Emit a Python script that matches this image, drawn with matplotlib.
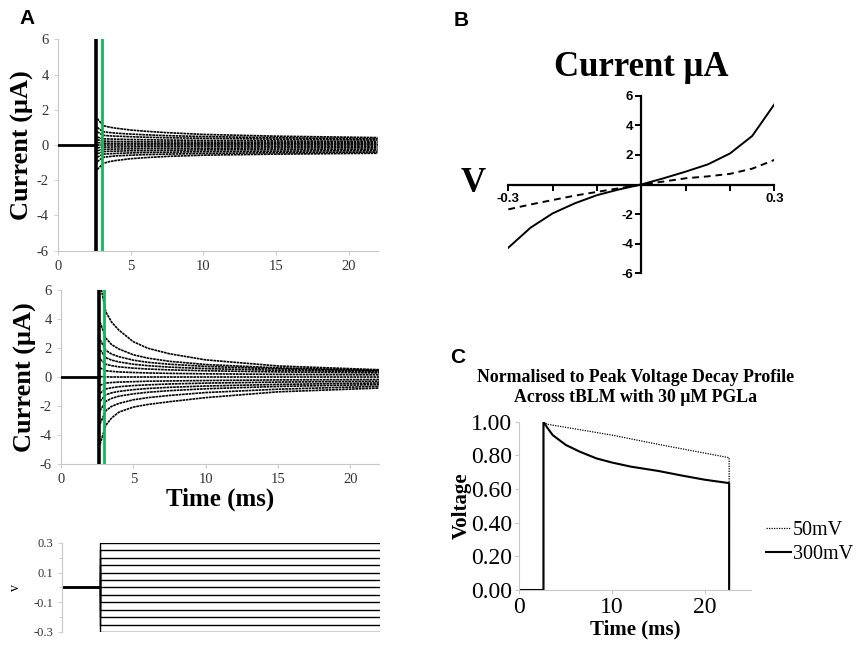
import matplotlib
matplotlib.use("Agg")
from matplotlib import pyplot as plt
import numpy as np

plt.rcParams["axes.unicode_minus"] = False

SERIF = "Liberation Serif"
SANS = "Liberation Sans"

# ---- panel A: current traces (uA) at sample times (ms), one row per voltage step
trace_times = [2.7, 3.1, 3.5, 4, 5, 6, 7.5, 10, 15, 22]
step_levels = [0.30, 0.25, 0.20, 0.15, 0.10, 0.05, 0.0,
               -0.05, -0.10, -0.15, -0.20, -0.25, -0.30]

top_traces = [
    [1.5, 1.1, 1.02, 0.95, 0.85, 0.78, 0.7, 0.6, 0.5, 0.42],
    [1.0, 0.75, 0.71, 0.67, 0.62, 0.58, 0.53, 0.48, 0.41, 0.35],
    [0.75, 0.55, 0.52, 0.5, 0.47, 0.44, 0.41, 0.38, 0.33, 0.28],
    [0.45, 0.35, 0.34, 0.33, 0.31, 0.3, 0.28, 0.26, 0.23, 0.2],
    [0.3, 0.22, 0.21, 0.2, 0.19, 0.18, 0.17, 0.16, 0.15, 0.13],
    [0.14, 0.1, 0.1, 0.09, 0.09, 0.08, 0.08, 0.07, 0.07, 0.06],
    [0.0, 0.0, 0.0, 0.0, 0.0, 0.0, 0.0, 0.0, 0.0, 0.0],
    [-0.16, -0.12, -0.12, -0.11, -0.11, -0.1, -0.1, -0.09, -0.09, -0.08],
    [-0.33, -0.25, -0.24, -0.23, -0.22, -0.21, -0.2, -0.19, -0.17, -0.16],
    [-0.5, -0.38, -0.36, -0.35, -0.33, -0.32, -0.3, -0.28, -0.26, -0.24],
    [-0.7, -0.52, -0.5, -0.48, -0.45, -0.43, -0.41, -0.38, -0.35, -0.32],
    [-0.95, -0.7, -0.66, -0.62, -0.58, -0.55, -0.52, -0.48, -0.44, -0.4],
    [-1.4, -1.05, -0.95, -0.88, -0.78, -0.72, -0.65, -0.58, -0.52, -0.47],
]

mid_traces = [
    [6.5, 4.5, 3.8, 3.25, 2.45, 2.0, 1.62, 1.2, 0.78, 0.52],
    [3.8, 2.7, 2.25, 1.95, 1.55, 1.32, 1.1, 0.88, 0.65, 0.48],
    [2.6, 1.85, 1.6, 1.42, 1.18, 1.03, 0.9, 0.75, 0.58, 0.44],
    [1.9, 1.35, 1.18, 1.06, 0.9, 0.8, 0.7, 0.6, 0.48, 0.38],
    [1.25, 0.9, 0.8, 0.72, 0.63, 0.57, 0.51, 0.45, 0.37, 0.3],
    [0.65, 0.45, 0.41, 0.37, 0.33, 0.3, 0.27, 0.24, 0.2, 0.17],
    [0.05, 0.03, 0.02, 0.02, 0.02, 0.02, 0.02, 0.02, 0.02, 0.02],
    [-0.55, -0.4, -0.36, -0.33, -0.3, -0.27, -0.25, -0.22, -0.18, -0.15],
    [-1.1, -0.8, -0.72, -0.65, -0.57, -0.52, -0.46, -0.4, -0.33, -0.27],
    [-1.65, -1.2, -1.07, -0.97, -0.85, -0.77, -0.69, -0.6, -0.49, -0.39],
    [-2.3, -1.65, -1.45, -1.3, -1.14, -1.03, -0.92, -0.79, -0.63, -0.5],
    [-3.2, -2.3, -2.0, -1.8, -1.55, -1.4, -1.25, -1.05, -0.82, -0.62],
    [-4.6, -3.3, -2.8, -2.4, -2.05, -1.87, -1.68, -1.4, -1.0, -0.74],
]

spike_time = 2.6      # ms, capacitive transient
marker_time = 3.0     # ms, green sample line
step_end = 22.0

# ---- panel B: I-V curves
iv_volts = [-0.3, -0.25, -0.2, -0.15, -0.1, -0.05, 0, 0.05, 0.1, 0.15, 0.2, 0.25, 0.3]
iv_solid = [-4.27, -2.92, -1.95, -1.27, -0.72, -0.33, 0, 0.42, 0.87, 1.36, 2.1, 3.28, 5.42]
iv_dashed = [-1.68, -1.35, -1.05, -0.75, -0.5, -0.25, 0, 0.2, 0.42, 0.55, 0.72, 1.07, 1.66]

# ---- panel C: normalised voltage decay
c_t300 = [0, 2.6, 2.6, 3.0, 3.6, 5, 6.5, 8.3, 10, 12, 15, 17.5, 20, 22.6, 22.6]
c_v300 = [0, 0, 1.0, 0.965, 0.92, 0.862, 0.822, 0.782, 0.757, 0.733, 0.707, 0.68, 0.655, 0.635, 0]
c_t50 = [0, 2.6, 2.6, 3.0, 10, 15, 22.6, 22.6]
c_v50 = [0, 0, 1.0, 0.985, 0.92, 0.865, 0.786, 0]

fig = plt.figure(figsize=(8.66, 6.56), dpi=100)

GRAY = "#c8c8c8"
TICKC = "#333333"


def style_trace_axes(ax, size=10.5):
    for s in ("top", "right"):
        ax.spines[s].set_visible(False)
    for s in ("left", "bottom"):
        ax.spines[s].set_color(GRAY)
        ax.spines[s].set_linewidth(0.8)
    ax.tick_params(colors=GRAY, labelcolor=TICKC, labelsize=size, length=3, width=0.6)
    for lab in ax.get_xticklabels() + ax.get_yticklabels():
        lab.set_fontfamily(SERIF)


def draw_traces(ax, traces):
    ax.plot([0, spike_time], [0, 0], color="black", lw=2.0, zorder=3)
    for tr in traces:
        ax.plot(trace_times, tr, color="black", lw=1.2, ls=(0, (1.6, 0.4)), zorder=2)
    ax.axvline(spike_time, color="black", lw=2.6, zorder=4)
    ax.axvline(marker_time, color="#12b85a", lw=2.0, zorder=5)
    ax.set_xlim(0, 22)
    ax.set_ylim(-6, 6)
    ax.set_xticks([0, 5, 10, 15, 20])
    ax.set_yticks([-6, -4, -2, 0, 2, 4, 6])
    ax.set_ylabel("Current (\u03bcA)", fontfamily=SERIF, fontweight="bold", fontsize=19, labelpad=2)
    style_trace_axes(ax)


ax1 = fig.add_axes([0.067, 0.618, 0.369, 0.322])
draw_traces(ax1, top_traces)

ax2 = fig.add_axes([0.0704, 0.292, 0.3676, 0.2657])
draw_traces(ax2, mid_traces)
ax2.set_xlabel("Time (ms)", fontfamily=SERIF, fontweight="bold", fontsize=18, labelpad=1)

# voltage protocol
ax3 = fig.add_axes([0.0716, 0.0366, 0.367, 0.1357])
for lvl in step_levels:
    ax3.plot([0, spike_time, spike_time, step_end], [0, 0, lvl, lvl], color="black", lw=1.0)
ax3.set_xlim(0, 22)
ax3.set_ylim(-0.3, 0.3)
ax3.set_yticks([-0.3, -0.1, 0.1, 0.3])
ax3.set_yticks([-0.2, 0.0, 0.2], minor=True)
ax3.set_xticks([])
ax3.spines["bottom"].set_visible(False)
style_trace_axes(ax3, size=9)
ax3.tick_params(axis="y", which="minor", colors=GRAY, length=2)
ax3.set_ylabel("v", fontfamily=SERIF, fontsize=10, labelpad=8)

# panel B
axb = fig.add_axes([0.587, 0.5834, 0.3072, 0.2707])
axb.plot(iv_volts, iv_solid, color="black", lw=1.4)
axb.plot(iv_volts, iv_dashed, color="black", lw=1.4, ls=(0, (3.5, 2.5)))
axb.set_xlim(-0.3, 0.3)
axb.set_ylim(-6, 6)
axb.spines["left"].set_position(("data", 0))
axb.spines["bottom"].set_position(("data", 0))
axb.spines["top"].set_visible(False)
axb.spines["right"].set_visible(False)
axb.spines["left"].set_linewidth(1.6)
axb.spines["bottom"].set_linewidth(1.6)
axb.set_xticks([-0.3, -0.2, -0.1, 0.0, 0.1, 0.2, 0.3])
axb.set_xticklabels(["-0.3", "", "", "", "", "", "0.3"])
axb.set_yticks([-6, -4, -2, 2, 4, 6])
axb.tick_params(direction="out", length=4, width=1.4, labelsize=9.5, pad=2)
for lab in axb.get_xticklabels() + axb.get_yticklabels():
    lab.set_fontfamily(SANS)
    lab.set_fontweight("bold")
axb.set_title("Current \u03bcA", fontfamily=SERIF, fontweight="bold", fontsize=25, pad=14)
fig.text(0.546, 0.721, "V", fontfamily=SERIF, fontweight="bold", fontsize=25, ha="center", va="center")

# panel C
axc = fig.add_axes([0.5997, 0.1006, 0.268, 0.2566])
axc.plot(c_t50, c_v50, color="black", lw=0.9, ls=(0, (1, 1)), label="50mV")
axc.plot(c_t300, c_v300, color="black", lw=1.5, label="300mV")
axc.set_xlim(0, 25)
axc.set_ylim(0, 1.0)
axc.set_xticks([0, 10, 20])
axc.set_yticks([0, 0.2, 0.4, 0.6, 0.8, 1.0])
axc.set_yticklabels(["%.2f" % v for v in [0, 0.2, 0.4, 0.6, 0.8, 1.0]])
axc.spines["top"].set_visible(False)
axc.spines["right"].set_visible(False)
axc.spines["left"].set_color(GRAY)
axc.spines["bottom"].set_color(GRAY)
axc.tick_params(colors=GRAY, labelcolor="black", labelsize=17, length=3, pad=2)
for lab in axc.get_xticklabels() + axc.get_yticklabels():
    lab.set_fontfamily(SERIF)
axc.set_xlabel("Time (ms)", fontfamily=SERIF, fontweight="bold", fontsize=15, labelpad=1)
axc.set_ylabel("Voltage", fontfamily=SERIF, fontweight="bold", fontsize=15, labelpad=0)
axc.set_title("Normalised to Peak Voltage Decay Profile\nAcross tBLM with 30 \u03bcM PGLa",
              fontfamily=SERIF, fontweight="bold", fontsize=12.8, pad=14, linespacing=1.25)
axc.legend(loc="center left", bbox_to_anchor=(1.03, 0.28), frameon=False,
           prop={"family": SERIF, "size": 14.5}, handlelength=1.2, handletextpad=0.1,
           labelspacing=0.25, borderaxespad=0)

# panel letters
for x, y, s in [(0.022, 0.972, "A"), (0.524, 0.968, "B"), (0.52, 0.455, "C")]:
    fig.text(x, y, s, fontfamily=SANS, fontweight="bold", fontsize=15, va="center")

fig.savefig("out.png", dpi=100)
